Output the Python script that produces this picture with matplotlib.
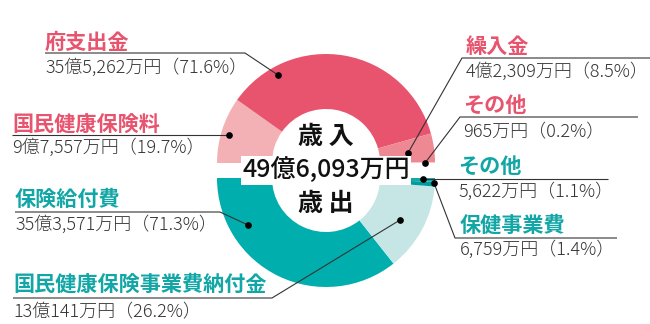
import matplotlib
matplotlib.use("Agg")
import matplotlib.pyplot as plt

plt.rcParams['font.family'] = ['Noto Sans CJK JP', 'DejaVu Sans']

W, H = 650, 324

# 歳入 (revenue), amounts in 万円
rev_names = ["国民健康保険料", "府支出金", "繰入金", "その他"]
rev_amounts = [97557, 355262, 42309, 965]
rev_pcts = [19.7, 71.6, 8.5, 0.2]
rev_colors = ["#F3B1B6", "#E8546E", "#EE8892", "#F6C9CC"]

# 歳出 (expenditure), amounts in 万円
exp_names = ["保険給付費", "国民健康保険事業費納付金", "保健事業費", "その他"]
exp_amounts = [353571, 130141, 6759, 5622]
exp_pcts = [71.3, 26.2, 1.4, 1.1]
exp_colors = ["#00AEAE", "#C6E6E6", "#009C9C", "#12A8A8"]

PINK = "#E8536E"
TEAL = "#12A6A6"
GRAY = "#333333"

# label layout in pixels: text x, title/rule/value y, rule ends, leader dot
rev_layout = {
    "国民健康保険料": dict(x=12, ty=125, ly=135, vy=148, x0=12, x1=229, dot=(229, 135)),
    "府支出金": dict(x=45, ty=42, ly=53, vy=68, x0=45, x1=245, dot=(278, 75)),
    "繰入金": dict(x=466, ty=46, ly=58, vy=72, x0=650, x1=462, dot=(408, 153)),
    "その他": dict(x=463, ty=105, ly=117, vy=132, x0=638, x1=460, dot=(425, 163)),
}
exp_layout = {
    "保険給付費": dict(x=15, ty=199, ly=212, vy=225, x0=15, x1=220, dot=(248, 225)),
    "国民健康保険事業費納付金": dict(x=13, ty=284, ly=298, vy=312, x0=13, x1=272, dot=(400, 220)),
    "保健事業費": dict(x=460, ty=226, ly=238, vy=250, x0=617, x1=455, dot=(434, 183)),
    "その他": dict(x=458, ty=166, ly=179, vy=192, x0=608, x1=423, dot=(423, 179)),
}


def yen(v):
    oku, man = divmod(v, 10000)
    if oku:
        return f"{oku}億{man:,}万円"
    return f"{man:,}万円"


def half_donut(ax, amounts, colors, center, counterclock):
    # the extra transparent wedge takes the other half of the circle
    total = sum(amounts)
    ax.pie(amounts + [total], colors=colors + ["none"], startangle=180,
           counterclock=counterclock, center=center, radius=109,
           wedgeprops=dict(width=55, linewidth=0))


def label(ax, name, amount, pct, color, lay):
    ax.text(lay["x"], H - lay["ty"], name, color=color, fontsize=15.2,
            fontweight="bold", ha="left", va="center")
    ax.text(lay["x"], H - lay["vy"], f"{yen(amount)}（{pct}%）", color=GRAY,
            fontsize=13, fontweight="light", ha="left", va="center")
    dx, dy = lay["dot"]
    ax.plot([lay["x0"], lay["x1"], dx], [H - lay["ly"], H - lay["ly"], H - dy],
            color=GRAY, lw=0.8, solid_capstyle="butt")
    ax.plot(dx, H - dy, "o", color="black", ms=3.8)


fig = plt.figure(figsize=(6.5, 3.24), dpi=100)
ax = fig.add_axes([0, 0, 1, 1])

half_donut(ax, rev_amounts, rev_colors, (326, H - 163), False)
half_donut(ax, exp_amounts, exp_colors, (326, H - 178), True)

for n, a, p in zip(rev_names, rev_amounts, rev_pcts):
    label(ax, n, a, p, PINK, rev_layout[n])
for n, a, p in zip(exp_names, exp_amounts, exp_pcts):
    label(ax, n, a, p, TEAL, exp_layout[n])

ax.text(326, H - 137, "歳 入", fontsize=18, fontweight="bold", color="#111111",
        ha="center", va="center")
ax.text(326, H - 170, yen(sum(rev_amounts)), fontsize=18, fontweight="medium",
        color="#111111", ha="center", va="center",
        bbox=dict(facecolor="white", edgecolor="none", pad=1))
ax.text(326, H - 204, "歳 出", fontsize=18, fontweight="bold", color="#111111",
        ha="center", va="center")

ax.set_xlim(0, W)
ax.set_ylim(0, H)
ax.set_aspect("auto")
ax.axis("off")

fig.savefig("out.png", dpi=100, facecolor="white")
